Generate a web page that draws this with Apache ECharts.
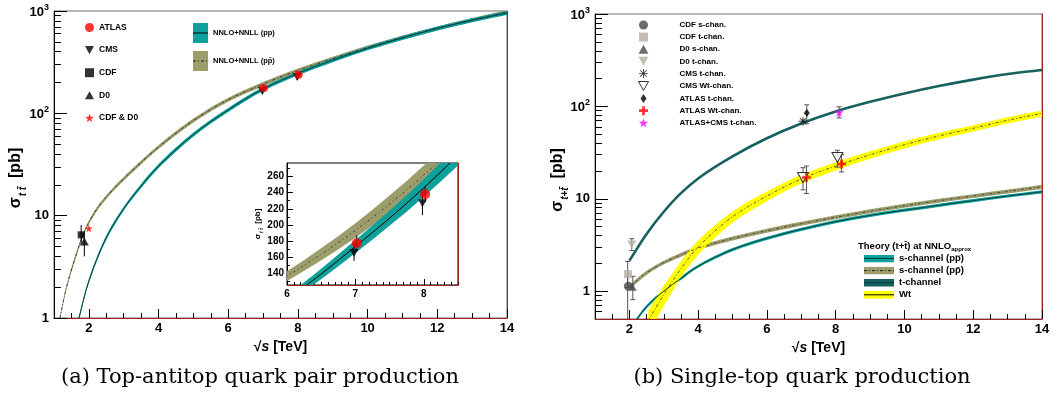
<!DOCTYPE html>
<html>
<head>
<meta charset="utf-8">
<script src="https://cdn.jsdelivr.net/npm/echarts@6/dist/echarts.min.js"></script>
<style>
  html, body { margin: 0; padding: 0; background: #fff; }
  #chart { width: 1063px; height: 394px; }
</style>
</head>
<body>
<div id="chart"></div>
<script>
// ---------- (a) top-antitop pair production ----------
// NNLO+NNLL, pp (LHC)
const ppS  = [1.7, 2, 2.5, 3, 3.5, 4, 5, 6, 7, 8, 9, 10, 11, 12, 13, 14]
const ppC  = [0.95, 2.3, 6.1, 11.7, 19.5, 30.5, 62, 108, 173, 246, 331, 432, 546, 676, 813, 955]
const ppLo = [0.91, 2.2, 5.8, 11.2, 18.6, 29.1, 59.2, 103, 165, 235, 316, 413, 521, 646, 776, 912]
const ppHi = [0.99, 2.4, 6.4, 12.2, 20.4, 31.9, 64.8, 113, 181, 257, 346, 451, 571, 706, 850, 998]
// NNLO+NNLL, p-pbar
const pbS  = [1.17, 1.36, 1.6, 1.89, 2.2, 2.6, 3, 3.5, 4, 5, 6, 7, 8, 9, 10, 11, 12, 13, 14]
const pbC  = [1.0, 2.0, 3.8, 7.2, 11.2, 16.6, 22.9, 33.1, 46.8, 85.1, 136, 193, 262, 343, 439, 550, 676, 818, 977]
const pbLo = [0.96, 1.91, 3.6, 6.9, 10.7, 15.9, 21.9, 31.6, 44.7, 81.3, 130, 184, 250, 328, 419, 525, 646, 781, 933]
const pbHi = [1.05, 2.09, 4.0, 7.5, 11.7, 17.3, 23.9, 34.6, 48.9, 88.9, 142, 202, 274, 358, 459, 575, 706, 855, 1021]
// measurements [sqrt(s), sigma] and error bars [sqrt(s), low, high]
const atlasTT = [[7.02, 177], [8.02, 238]]
const atlasTTErr = [[7.02, 167, 187], [8.02, 228, 248]]
const cmsTT = [[6.98, 165], [7.98, 227]]
const cmsTTErr = [[6.98, 155, 178], [7.98, 212, 242]]
const cdfTT = [[1.78, 6.5]]
const cdfTTErr = [[1.78, 5.4, 8.1]]
const d0TT = [[1.87, 5.6]]
const d0TTErr = [[1.87, 4.0, 6.8]]
const tevTT = [[2.0, 7.5]]

// ---------- (b) single-top production ----------
const tchS  = [2, 2.5, 3, 3.5, 4, 5, 6, 7, 8, 9, 10, 11, 12, 13, 14]
const tchC  = [2.14, 4.17, 7.24, 11.5, 16.6, 28.8, 45.2, 65.3, 88.1, 112, 138, 166, 195, 224, 248]
const sppS  = [2.2, 2.5, 3, 3.5, 4, 5, 6, 7, 8, 9, 10, 11, 12, 13, 14]
const sppC  = [0.49, 0.68, 1.0, 1.38, 1.86, 2.82, 3.74, 4.68, 5.66, 6.61, 7.53, 8.51, 9.55, 10.7, 11.9]
const sppLo = [0.47, 0.65, 0.96, 1.32, 1.79, 2.71, 3.59, 4.49, 5.43, 6.35, 7.23, 8.17, 9.17, 10.3, 11.4]
const sppHi = [0.51, 0.71, 1.04, 1.44, 1.93, 2.93, 3.89, 4.87, 5.89, 6.87, 7.83, 8.85, 9.93, 11.1, 12.4]
const spbS  = [2, 2.5, 3, 4, 5, 6, 7, 8, 9, 10, 11, 12, 13, 14]
const spbC  = [1.11, 1.58, 2.04, 2.92, 3.72, 4.52, 5.37, 6.31, 7.33, 8.41, 9.55, 10.7, 12.0, 13.5]
const spbLo = [1.05, 1.50, 1.94, 2.77, 3.53, 4.29, 5.10, 5.99, 6.96, 7.99, 9.07, 10.2, 11.4, 12.8]
const spbHi = [1.17, 1.66, 2.14, 3.07, 3.91, 4.75, 5.64, 6.63, 7.70, 8.83, 10.0, 11.2, 12.6, 14.2]
const wtS  = [2.55, 3, 3.5, 4, 5, 6, 7, 8, 9, 10, 11, 12, 13, 14]
const wtC  = [0.48, 0.92, 1.75, 3.0, 6.4, 10.7, 16.4, 22.6, 29.9, 38.5, 47.9, 58, 70.8, 84]
const wtLo = [0.34, 0.69, 1.40, 2.46, 5.5, 9.4, 14.6, 20.3, 27.1, 35.0, 43.8, 53.4, 65.3, 77.7]
const wtHi = [0.62, 1.15, 2.10, 3.54, 7.3, 12.0, 18.2, 24.9, 32.7, 42.0, 52.0, 62.6, 76.3, 90.3]

const cdfS = [[1.97, 1.13]]
const cdfSErr = [[1.95, 0.4, 1.6]]
const cdfT = [[1.96, 1.53]]
const cdfTErr = [[1.95, 1.1, 2.1]]
const d0S = [[2.1, 1.1]]
const d0SErr = [[2.1, 0.81, 1.45]]
const d0T = [[2.07, 3.2]]
const d0TErr = [[2.07, 2.75, 3.7]]
const cmsT = [[7.05, 69]]
const cmsTErr = [[7.05, 63, 74]]
const cmsWt = [[7.05, 17], [8.05, 28]]
const cmsWtErr = [[7.05, 12.5, 21.7], [8.05, 22, 33.5]]
const atlasT = [[7.16, 85]]
const atlasTErr = [[7.16, 65, 104]]
const atlasWt = [[7.15, 17], [8.17, 23.8]]
const atlasWtErr = [[7.15, 11.4, 22.6], [8.17, 19.5, 30]]
const comboT = [[8.1, 86]]
const comboTErr = [[8.1, 75, 99]]

// axis ticks
const xMajor = [2, 4, 6, 8, 10, 12, 14]
const logMajorA = [1, 10, 100, 1000]
const logMajorB = [1, 10, 100, 1000]
const insetXMajor = [6, 7, 8]
const insetYMajor = [140, 160, 180, 200, 220, 240, 260]

// ---------- styling ----------
const F = 'Liberation Sans'
const frameRed = '#a3201f'
const teal = '#0ea19b'
const tealLine = '#063f3f'
const olive = '#9d9d6b'
const tChan = '#17605f'
const yellow = '#ffff00'

const DOWN = 'path://M0,0L10,0L5,9Z'
const UP = 'path://M5,0L10,9L0,9Z'
const SQUARE = 'path://M0,0H10V10H0Z'
const STAR = 'path://M5,0L6.2,3.6L10,3.6L6.9,5.9L8.1,9.5L5,7.3L1.9,9.5L3.1,5.9L0,3.6L3.8,3.6Z'
const CROSS = 'path://M3.5,0H6.5V3.5H10V6.5H6.5V10H3.5V6.5H0V3.5H3.5Z'
const AST = 'path://M0,4.5H10V5.5H0Z M4.5,0H5.5V10H4.5Z M1.1,1.8L1.8,1.1L8.9,8.2L8.2,8.9Z M8.2,1.1L8.9,1.8L1.8,8.9L1.1,8.2Z'

const xMinor = []
for (let v = 1.5; v < 14; v += 0.5) if (v % 2 !== 0) xMinor.push(v)
const logMinorA = []
const logMinorB = [0.6, 0.7, 0.8, 0.9]
;[1, 10, 100].forEach(d => {
  for (let k = 2; k <= 9; k++) { logMinorA.push(k * d); logMinorB.push(k * d) }
})
const insetXMinor = []
for (let i = 61; i <= 85; i++) if (i % 10) insetXMinor.push(i / 10)
const insetYMinor = [130, 150, 170, 190, 210, 230, 250, 270]

function bandIcon(w, h, fill, line, dash) {
  const svg = '<svg xmlns="http://www.w3.org/2000/svg" width="' + w * 4 + '" height="' + h * 4 +
    '" viewBox="0 0 ' + w + ' ' + h + '"><rect width="' + w + '" height="' + h + '" fill="' + fill + '"/>' +
    '<line x1="0" y1="' + h / 2 + '" x2="' + w + '" y2="' + h / 2 + '" stroke="' + line + '" stroke-width="1"' +
    (dash ? ' stroke-dasharray="' + dash + '"' : '') + '/></svg>'
  return 'image://data:image/svg+xml;charset=utf-8,' + encodeURIComponent(svg)
}

const logRich = {
  b: { fontFamily: F, fontWeight: 'bold', fontSize: 13, color: '#000', verticalAlign: 'bottom' },
  sup: { fontFamily: F, fontWeight: 'bold', fontSize: 9, color: '#000', verticalAlign: 'bottom', padding: [0, 0, 7, 0] }
}
function logLabel(v) {
  if (v >= 100) return '{b|10}{sup|' + Math.round(Math.log10(v)) + '}'
  return '{b|' + v + '}'
}

// ---------- axes ----------
function xAxisMajor(grid, min, max, ticks, len, fs) {
  return {
    type: 'value', gridIndex: grid, position: 'bottom', min, max,
    axisLine: { show: true, onZero: false, lineStyle: { color: frameRed, width: 1 } },
    axisTick: { show: true, inside: true, length: len, customValues: ticks, lineStyle: { color: '#000' } },
    axisLabel: { show: true, customValues: ticks, margin: 4, fontFamily: F, fontWeight: 'bold', fontSize: fs, color: '#000' },
    splitLine: { show: false }
  }
}
function xAxisMinor(grid, min, max, ticks, len) {
  return {
    type: 'value', gridIndex: grid, position: 'bottom', min, max,
    axisLine: { show: false, onZero: false },
    axisTick: { show: true, inside: true, length: len, customValues: ticks, lineStyle: { color: '#000' } },
    axisLabel: { show: false }, splitLine: { show: false }
  }
}
function yAxisMajor(grid, type, min, max, ticks, len, label) {
  return Object.assign({
    type, gridIndex: grid, position: 'left', min, max, logBase: 10,
    axisLine: { show: true, onZero: false, lineStyle: { color: '#000', width: 1 } },
    axisTick: { show: true, inside: true, length: len, customValues: ticks, lineStyle: { color: '#000' } },
    splitLine: { show: false }
  }, label)
}
function yAxisMinor(grid, type, min, max, ticks, len) {
  return {
    type, gridIndex: grid, position: 'left', min, max, logBase: 10,
    axisLine: { show: false, onZero: false },
    axisTick: { show: true, inside: true, length: len, customValues: ticks, lineStyle: { color: '#000' } },
    axisLabel: { show: false }, splitLine: { show: false }
  }
}
function yAxisFrame(grid, type, min, max) {
  return {
    type, gridIndex: grid, position: 'right', min, max, logBase: 10,
    axisLine: { show: true, onZero: false, lineStyle: { color: frameRed, width: 1 } },
    axisTick: { show: false }, axisLabel: { show: false }, splitLine: { show: false }
  }
}

const sqrtName = {
  name: '\u221A{i|s} [TeV]', nameLocation: 'middle', nameGap: 19,
  nameTextStyle: { fontFamily: F, fontWeight: 'bold', fontSize: 14, color: '#000',
    rich: { i: { fontFamily: F, fontStyle: 'italic', fontSize: 14, color: '#000' } } }
}
function sigmaName(sub, gap, fs, shift) {
  const k = fs / 16
  return {
    name: '{g|\u03C3}{s|' + sub + '}  {b|[pb]}', nameLocation: 'middle', nameGap: gap,
    nameMoveOverlap: false,
    nameTextStyle: {
      fontFamily: F, fontWeight: 'bold', fontSize: fs, color: '#000',
      padding: [0, shift, 0, 0],
      rich: {
        g: { fontFamily: F, fontSize: 16 * k, color: '#000', verticalAlign: 'top' },
        s: { fontFamily: F, fontStyle: 'italic', fontSize: 10 * k, color: '#000', verticalAlign: 'top', padding: [10 * k, 0, 0, 1] },
        b: { fontFamily: F, fontWeight: 'bold', fontSize: 16 * k, color: '#000', verticalAlign: 'top' }
      }
    }
  }
}

const xAxis = [
  Object.assign(xAxisMajor(0, 1, 14, xMajor, 9, 13), sqrtName),
  xAxisMinor(0, 1, 14, xMinor, 5),
  xAxisMajor(1, 6, 8.5, insetXMajor, 6, 10),
  xAxisMinor(1, 6, 8.5, insetXMinor, 3),
  Object.assign(xAxisMajor(2, 1, 14, xMajor, 9, 13), sqrtName),
  xAxisMinor(2, 1, 14, xMinor, 5)
]
const yAxis = [
  yAxisMajor(0, 'log', 1, 1000, logMajorA, 13, Object.assign({
    axisLabel: { customValues: logMajorA, margin: 5, formatter: logLabel, rich: logRich }
  }, sigmaName('t t\u0304', 26, 16, 27))),
  yAxisMinor(0, 'log', 1, 1000, logMinorA, 7),
  yAxisFrame(0, 'log', 1, 1000),
  yAxisMajor(1, 'value', 125, 277, insetYMajor, 6, Object.assign({
    axisLabel: { customValues: insetYMajor, margin: 3, fontFamily: F, fontWeight: 'bold', fontSize: 10, color: '#000' }
  }, sigmaName('t t\u0304', 23, 8, 0))),
  yAxisMinor(1, 'value', 125, 277, insetYMinor, 3),
  yAxisFrame(1, 'value', 125, 277),
  yAxisMajor(2, 'log', 0.5, 1000, logMajorB, 13, Object.assign({
    axisLabel: { customValues: logMajorB, margin: 5, formatter: logLabel, rich: logRich }
  }, sigmaName('t+t\u0304', 25, 16, 27))),
  yAxisMinor(2, 'log', 0.5, 1000, logMinorB, 7),
  yAxisFrame(2, 'log', 0.5, 1000)
]

// ---------- series helpers ----------
// centripetal Catmull-Rom through pixel points, as cubic bezier path commands
function spline(p, start) {
  const dist = (a, b) => Math.max(1e-6, Math.sqrt(Math.hypot(a[0] - b[0], a[1] - b[1])))
  let d = start + p[0][0].toFixed(2) + ',' + p[0][1].toFixed(2)
  for (let i = 0; i < p.length - 1; i++) {
    const p1 = p[i], p2 = p[i + 1]
    const p0 = i > 0 ? p[i - 1] : [2 * p1[0] - p2[0], 2 * p1[1] - p2[1]]
    const p3 = i + 2 < p.length ? p[i + 2] : [2 * p2[0] - p1[0], 2 * p2[1] - p1[1]]
    const d1 = dist(p0, p1), d2 = dist(p1, p2), d3 = dist(p2, p3)
    const c1 = [0, 1].map(k => (d1 * d1 * p2[k] - d2 * d2 * p0[k] + (2 * d1 * d1 + 3 * d1 * d2 + d2 * d2) * p1[k]) / (3 * d1 * (d1 + d2)))
    const c2 = [0, 1].map(k => (d3 * d3 * p1[k] - d2 * d2 * p3[k] + (2 * d3 * d3 + 3 * d3 * d2 + d2 * d2) * p2[k]) / (3 * d3 * (d3 + d2)))
    d += 'C' + c1[0].toFixed(2) + ',' + c1[1].toFixed(2) + ' ' + c2[0].toFixed(2) + ',' + c2[1].toFixed(2) +
      ' ' + p2[0].toFixed(2) + ',' + p2[1].toFixed(2)
  }
  return d
}
function band(name, xi, yi, xs, lo, hi, fill) {
  return {
    type: 'custom', name, xAxisIndex: xi, yAxisIndex: yi, clip: true, silent: true, z: 2,
    data: xs.map((x, i) => [x, lo[i], hi[i]]),
    encode: { x: 0, y: [1, 2] },
    renderItem: function (params, api) {
      if (params.dataIndex !== 0) return null
      const up = xs.map((x, i) => api.coord([x, hi[i]]))
      const dn = xs.map((x, i) => api.coord([x, lo[i]])).reverse()
      return { type: 'path', shape: { pathData: spline(up, 'M') + spline(dn, 'L') + 'Z' }, style: { fill: fill, stroke: null } }
    }
  }
}
function curve(name, xi, yi, xs, ys, color, width, dash) {
  return {
    type: 'custom', name, xAxisIndex: xi, yAxisIndex: yi, clip: true, silent: true, z: 3,
    data: xs.map((x, i) => [x, ys[i]]),
    encode: { x: 0, y: 1 },
    renderItem: function (params, api) {
      if (params.dataIndex !== 0) return null
      const p = xs.map((x, i) => api.coord([x, ys[i]]))
      return { type: 'path', shape: { pathData: spline(p, 'M') },
        style: { fill: null, stroke: color, lineWidth: width, lineDash: dash || null } }
    }
  }
}
function errs(xi, yi, rows, color, cap) {
  return {
    type: 'custom', xAxisIndex: xi, yAxisIndex: yi, clip: true, silent: true, z: 4,
    data: rows, encode: { x: 0, y: [1, 2] },
    renderItem: function (params, api) {
      const x = api.value(0)
      const a = api.coord([x, api.value(1)])
      const b = api.coord([x, api.value(2)])
      const st = { stroke: color, lineWidth: 1 }
      const kids = [{ type: 'line', shape: { x1: a[0], y1: a[1], x2: b[0], y2: b[1] }, style: st }]
      if (cap) {
        kids.push({ type: 'line', shape: { x1: a[0] - cap, y1: a[1], x2: a[0] + cap, y2: a[1] }, style: st })
        kids.push({ type: 'line', shape: { x1: b[0] - cap, y1: b[1], x2: b[0] + cap, y2: b[1] }, style: st })
      }
      return { type: 'group', children: kids }
    }
  }
}
function pts(name, xi, yi, rows, symbol, size, style) {
  return {
    type: 'scatter', name, xAxisIndex: xi, yAxisIndex: yi, silent: true, z: 5,
    data: rows, symbol, symbolSize: size, itemStyle: style
  }
}

const ppName = 'NNLO+NNLL (pp)'
const pbName = 'NNLO+NNLL (pp\u0304)'
const sppName = 's-channel (pp\u0305)'
const spbName = 's-channel (pp\u0304)'
const dashDot = [3, 2, 1, 2]

const series = [
  // (a) main
  band(pbName, 0, 0, pbS, pbLo, pbHi, olive),
  band(ppName, 0, 0, ppS, ppLo, ppHi, teal),
  curve('', 0, 0, ppS, ppC, tealLine, 1),
  curve('', 0, 0, pbS, pbC, '#222', 0.8, dashDot),
  errs(0, 0, cdfTTErr, '#000', 0),
  errs(0, 0, d0TTErr, '#000', 0),
  errs(0, 0, cmsTTErr, '#000', 0),
  errs(0, 0, atlasTTErr, '#000', 0),
  pts('CDF', 0, 0, cdfTT, SQUARE, 7, { color: '#000' }),
  pts('D0', 0, 0, d0TT, UP, [9, 8], { color: '#000' }),
  pts('CDF & D0', 0, 0, tevTT, STAR, 8, { color: '#ff0000' }),
  pts('CMS', 0, 0, cmsTT, DOWN, [9, 8], { color: '#000' }),
  pts('ATLAS', 0, 0, atlasTT, 'circle', 8, { color: '#ff0000' }),
  // (a) inset
  band(pbName, 2, 3, pbS, pbLo, pbHi, olive),
  band(ppName, 2, 3, ppS, ppLo, ppHi, teal),
  curve('', 2, 3, ppS, ppC, '#000', 1),
  curve('', 2, 3, pbS, pbC, '#333', 1, [2, 3, 1, 3]),
  errs(2, 3, cmsTTErr, '#000', 0),
  errs(2, 3, atlasTTErr, '#000', 0),
  pts('CMS', 2, 3, cmsTT, DOWN, [9, 8], { color: '#000' }),
  pts('ATLAS', 2, 3, atlasTT, 'circle', 10, { color: '#ff0000' }),
  // (b)
  band(sppName, 4, 6, sppS, sppLo, sppHi, teal),
  curve('', 4, 6, sppS, sppC, tealLine, 1),
  band(spbName, 4, 6, spbS, spbLo, spbHi, olive),
  curve('', 4, 6, spbS, spbC, '#333', 0.8, dashDot),
  band('Wt', 4, 6, wtS, wtLo, wtHi, yellow),
  curve('', 4, 6, wtS, wtC, '#333', 0.8, dashDot),
  curve('t-channel', 4, 6, tchS, tchC, tChan, 2.6),
  errs(4, 6, cdfSErr, '#555', 0),
  errs(4, 6, cdfTErr, '#555', 2.5),
  errs(4, 6, d0SErr, '#555', 2.5),
  errs(4, 6, d0TErr, '#555', 2.5),
  errs(4, 6, cmsTErr, '#555', 0),
  errs(4, 6, atlasTErr, '#555', 2.5),
  errs(4, 6, comboTErr, '#555', 2.5),
  errs(4, 6, cmsWtErr, '#555', 2.5),
  errs(4, 6, atlasWtErr, '#555', 2.5),
  pts('CDF t-chan.', 4, 6, cdfT, SQUARE, 8, { color: '#b6aea4' }),
  pts('D0 t-chan.', 4, 6, d0T, DOWN, [9, 8], { color: '#b6aea4' }),
  pts('CDF s-chan.', 4, 6, cdfS, 'circle', 9, { color: '#484848' }),
  pts('D0 s-chan.', 4, 6, d0S, UP, [8, 7], { color: '#484848' }),
  pts('CMS t-chan.', 4, 6, cmsT, AST, 9, { color: '#111' }),
  pts('ATLAS t-chan.', 4, 6, atlasT, 'diamond', [6, 8], { color: '#000' }),
  pts('ATLAS+CMS t-chan.', 4, 6, comboT, STAR, 9, { color: '#ff00ff' }),
  pts('CMS Wt-chan.', 4, 6, cmsWt, DOWN, [11, 10], { color: '#fff', borderColor: '#000', borderWidth: 1 }),
  pts('ATLAS Wt-chan.', 4, 6, atlasWt, CROSS, 9, { color: '#ff0000' })
]

const legendText = (fs) => ({ fontFamily: F, fontWeight: 'bold', fontSize: fs, color: '#000' })

const option = {
  animation: false,
  backgroundColor: '#fff',
  textStyle: { fontFamily: F },
  grid: [
    { left: 54, top: 11, width: 453, height: 307, show: true, borderColor: '#707070', borderWidth: 1, backgroundColor: 'transparent' },
    { left: 287, top: 163, width: 171, height: 122, show: true, borderColor: '#000', borderWidth: 1, backgroundColor: '#fff' },
    { left: 595, top: 14, width: 447, height: 305, show: true, borderColor: '#707070', borderWidth: 1, backgroundColor: 'transparent' }
  ],
  xAxis,
  yAxis,
  legend: [
    {
      orient: 'vertical', left: 80, top: 18, itemWidth: 9, itemHeight: 9, itemGap: 13.6,
      selectedMode: false, textStyle: legendText(8.5),
      data: [
        { name: 'ATLAS', icon: 'circle' },
        { name: 'CMS', icon: DOWN },
        { name: 'CDF', icon: SQUARE },
        { name: 'D0', icon: UP },
        { name: 'CDF & D0', icon: STAR }
      ]
    },
    {
      orient: 'vertical', left: 188, top: 18, itemWidth: 15, itemHeight: 20, itemGap: 8,
      selectedMode: false, textStyle: legendText(7.5),
      data: [
        { name: ppName, icon: bandIcon(15, 20, teal, '#000') },
        { name: pbName, icon: bandIcon(15, 20, olive, '#222', '3 2 1 2') }
      ]
    },
    {
      orient: 'vertical', left: 633, top: 15.5, itemWidth: 10, itemHeight: 9, itemGap: 3.1,
      selectedMode: false, textStyle: Object.assign(legendText(8), { padding: [0, 0, 0, 26] }),
      data: [
        { name: 'CDF s-chan.', icon: 'circle' },
        { name: 'CDF t-chan.', icon: SQUARE },
        { name: 'D0 s-chan.', icon: UP },
        { name: 'D0 t-chan.', icon: DOWN },
        { name: 'CMS t-chan.', icon: AST },
        { name: 'CMS Wt-chan.', icon: DOWN, itemStyle: { color: '#fff', borderColor: '#000', borderWidth: 1 } },
        { name: 'ATLAS t-chan.', icon: 'path://M3,0L6,4.5L3,9L0,4.5Z' },
        { name: 'ATLAS Wt-chan.', icon: CROSS },
        { name: 'ATLAS+CMS t-chan.', icon: STAR }
      ]
    },
    {
      orient: 'vertical', left: 859, top: 248.5, itemWidth: 30, itemHeight: 8, itemGap: 2.1,
      selectedMode: false, textStyle: legendText(9.5),
      data: [
        { name: sppName, icon: bandIcon(30, 8, teal, tealLine) },
        { name: spbName, icon: bandIcon(30, 8, olive, '#222', '3 2 1 2') },
        { name: 't-channel', icon: bandIcon(30, 8, tChan, '#0a3a3a') },
        { name: 'Wt', icon: bandIcon(30, 8, yellow, '#000') }
      ]
    }
  ],
  graphic: [
    {
      type: 'text', x: 260, y: 378, silent: true,
      style: { text: '(a) Top-antitop quark pair production', font: '21px "DejaVu Serif"', fill: '#000',
        textAlign: 'center', textVerticalAlign: 'middle', align: 'center', verticalAlign: 'middle' }
    },
    {
      type: 'text', x: 802, y: 378, silent: true,
      style: { text: '(b) Single-top quark production', font: '21px "DejaVu Serif"', fill: '#000',
        textAlign: 'center', textVerticalAlign: 'middle', align: 'center', verticalAlign: 'middle' }
    },
    {
      type: 'text', x: 858, y: 241, silent: true,
      style: {
        text: '{h|Theory (t+t\u0304) at NNLO}{s|approx}',
        rich: {
          h: { fontFamily: F, fontWeight: 'bold', fontSize: 9.5, fill: '#000', verticalAlign: 'top' },
          s: { fontFamily: F, fontWeight: 'bold', fontSize: 6, fill: '#000', verticalAlign: 'top', padding: [5, 0, 0, 0] }
        }
      }
    }
  ],
  series
}

const chart = echarts.init(document.getElementById('chart'))
chart.setOption(option)
</script>
</body>
</html>
